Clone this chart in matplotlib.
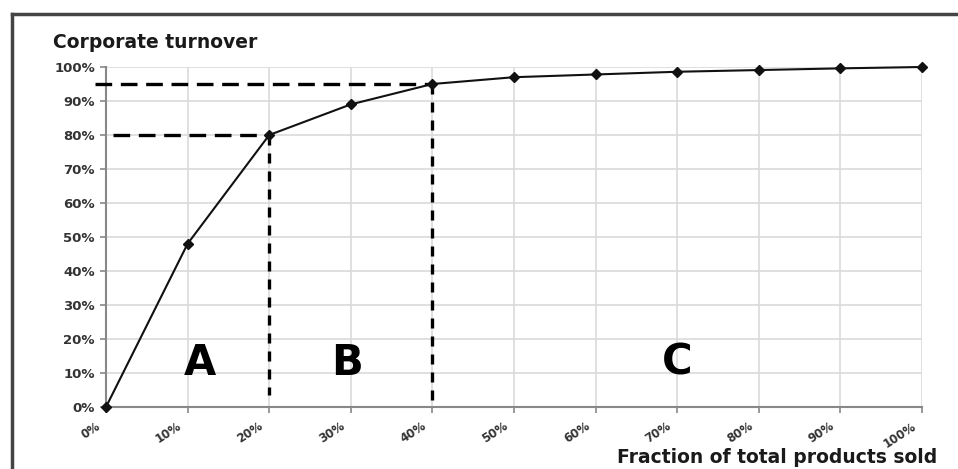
import matplotlib
matplotlib.use("Agg")
import matplotlib.pyplot as plt
from matplotlib.lines import Line2D
from matplotlib.transforms import ScaledTranslation

plt.rcParams['font.family'] = ['DejaVu Sans']

products_pct = [0, 10, 20, 30, 40, 50, 60, 70, 80, 90, 100]
turnover_pct = [0, 48, 80, 89, 95, 97, 97.8, 98.6, 99.1, 99.6, 100]
x_tick_labels = [f"{v}%" for v in products_pct]
y_ticks = [0, 10, 20, 30, 40, 50, 60, 70, 80, 90, 100]
y_tick_labels = [f"{v}%" for v in y_ticks]
class_labels = ["A", "B", "C"]
class_x = [11.5, 29.5, 70]
class_y = 13
cut_x = [20, 40]
cut_y = [80, 95]

W, H = 958, 469
fig = plt.figure(figsize=(W / 100, H / 100), dpi=100)
ax = fig.add_axes([106 / W, 1 - 407 / H, (922 - 106) / W, (407 - 67) / H])

ax.set_xlim(0, 100)
ax.set_ylim(0, 100)
ax.grid(True, color='#dadada', linewidth=1.2)
ax.set_axisbelow(True)
for s in ['top', 'right']:
    ax.spines[s].set_visible(False)
for s in ['left', 'bottom']:
    ax.spines[s].set_color('#888888')
    ax.spines[s].set_linewidth(1.5)
ax.tick_params(axis='both', length=4, width=1.2, color='#888888')
ax.tick_params(axis='x', pad=9)
ax.tick_params(axis='y', pad=4)

ax.set_xticks(products_pct)
ax.set_xticklabels(x_tick_labels, rotation=33, ha='right', va='center',
                   rotation_mode='anchor', fontsize=8.5, fontweight='bold', color='#333333')
ax.set_yticks(y_ticks)
ax.set_yticklabels(y_tick_labels, fontsize=9.5, fontweight='bold', color='#333333')
offset = ScaledTranslation(-7 / 100, 0, fig.dpi_scale_trans)
for tick in ax.xaxis.get_major_ticks():
    tick.label1.set_transform(tick.label1.get_transform() + offset)

# dashed cut-off lines
dash_h = (0, (5, 2.6))
dash_v = (0, (3, 2.4))
lw_d = 2.4
ax.plot([-1.35, cut_x[1]], [cut_y[1], cut_y[1]], color='black', lw=lw_d, linestyle=dash_h,
        clip_on=False, zorder=3)
ax.plot([0.9, cut_x[0]], [cut_y[0], cut_y[0]], color='black', lw=lw_d, linestyle=dash_h,
        clip_on=False, zorder=3)
ax.plot([cut_x[0], cut_x[0]], [cut_y[0], 3.5], color='black', lw=lw_d, linestyle=dash_v, zorder=3)
ax.plot([cut_x[1], cut_x[1]], [cut_y[1], 2], color='black', lw=lw_d, linestyle=dash_v, zorder=3)

ax.plot(products_pct, turnover_pct, color='#111111', lw=1.5, marker='D', markersize=5,
        clip_on=False, zorder=4)

for lab, x in zip(class_labels, class_x):
    ax.text(x, class_y, lab, fontsize=30, fontweight='bold', ha='center', va='center')

fig.text(53 / W, 1 - 42 / H, "Corporate turnover", fontsize=13.5, fontweight='bold',
         ha='left', va='center', color='#1a1a1a')
fig.text(937 / W, 1 - 457 / H, "Fraction of total products sold", fontsize=13.5,
         fontweight='bold', ha='right', va='center', color='#1a1a1a')

# outer frame
fig.add_artist(Line2D([12 / W, 12 / W], [0, 1 - 14 / H], color='#444444', lw=2.5))
fig.add_artist(Line2D([12 / W, 1], [1 - 14 / H, 1 - 14 / H], color='#444444', lw=2.5))

fig.savefig("out.png", dpi=100)
